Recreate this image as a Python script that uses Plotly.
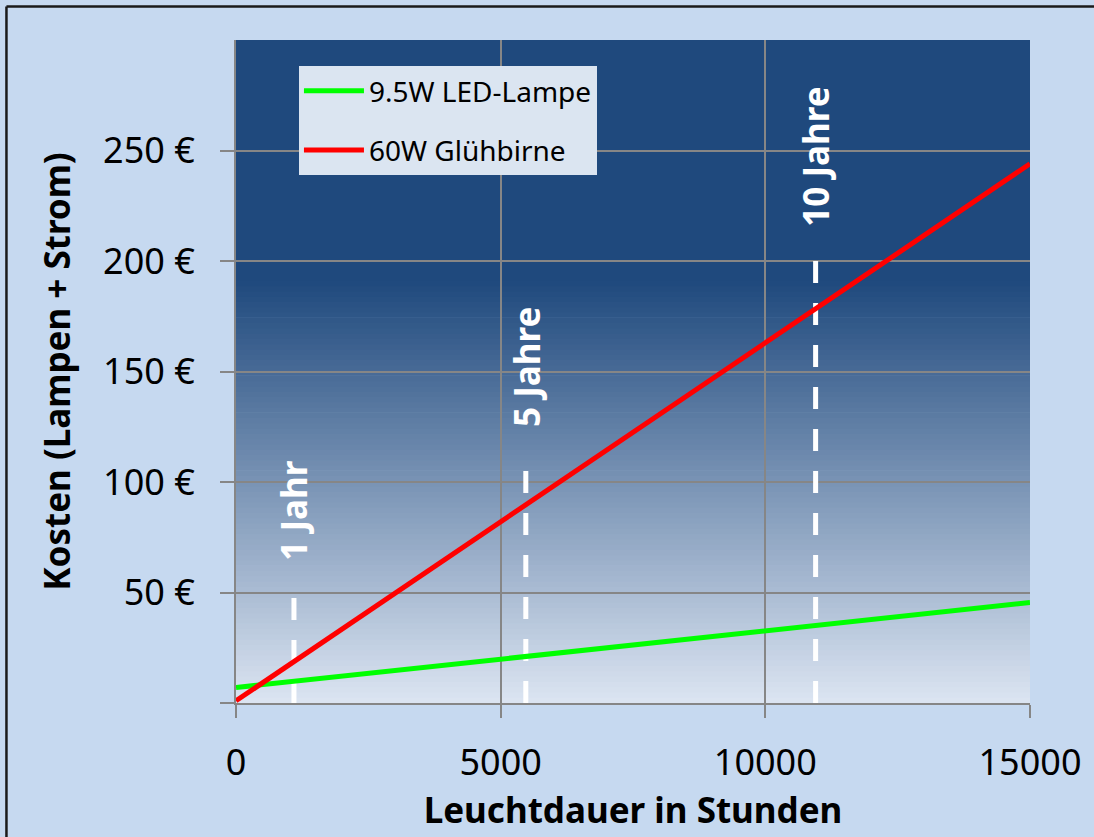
import plotly.graph_objects as go

# Leuchtdauer (h) und kumulierte Kosten (Lampen + Strom) in Euro
stunden = [0, 15000]
kosten_led = [7, 45.5]
kosten_gluehbirne = [1, 244]
serien_namen = ["9.5W LED-Lampe", "60W Glühbirne"]

# Markierungen für 1, 5 und 10 Jahre Nutzung
jahr_stunden = [1095, 5475, 10950]
jahr_linien_oben = [47.5, 105, 200]
jahr_label_y = [87, 152, 247]
jahr_labels = ["1 Jahr", "5 Jahre", "10 Jahre"]

x_ticks = [0, 5000, 10000, 15000]
y_ticks = [0, 50, 100, 150, 200, 250]
y_ticktext = ["", "50 €", "100 €", "150 €", "200 €", "250 €"]

FONT = "Noto Sans"
Y_MAX = 300

fig = go.Figure()

# gestrichelte Jahresmarken
for xs, top in zip(jahr_stunden, jahr_linien_oben):
    fig.add_trace(go.Scatter(
        x=[xs, xs], y=[top, 0], mode="lines",
        line=dict(color="white", width=5, dash="22px,20px"),
        showlegend=False, hoverinfo="skip",
    ))

fig.add_trace(go.Scatter(
    x=stunden, y=kosten_led, mode="lines", name=serien_namen[0],
    line=dict(color="#00FF00", width=5), legendgroup="led",
))
fig.add_trace(go.Scatter(
    x=stunden, y=kosten_gluehbirne, mode="lines", name=serien_namen[1],
    line=dict(color="#FF0000", width=5), legendgroup="gluehbirne",
))

for xs, ys, txt in zip(jahr_stunden, jahr_label_y, jahr_labels):
    fig.add_annotation(
        x=xs, y=ys, xref="x", yref="y", text=txt, textangle=-90,
        showarrow=False,
        font=dict(family=FONT, size=35, color="white", weight="bold"),
    )

# Hintergrundverlauf: dunkelblau oben, hell unten
dark = (31, 73, 125)
light = (220, 229, 242)
grad_top = 191.0
n_bands = 80
shapes = [dict(type="rect", xref="x domain", yref="y", x0=0, x1=1,
               y0=grad_top, y1=Y_MAX, fillcolor="rgb(31,73,125)",
               line=dict(width=0), layer="below")]
for i in range(n_bands):
    y0 = grad_top * i / n_bands
    y1 = grad_top * (i + 1) / n_bands
    f = 1 - (i + 0.5) / n_bands
    c = tuple(round(d + (l - d) * f) for d, l in zip(dark, light))
    shapes.append(dict(type="rect", xref="x domain", yref="y", x0=0, x1=1,
                       y0=y0, y1=y1 + 0.3, fillcolor="rgb(%d,%d,%d)" % c,
                       line=dict(width=0), layer="below"))

# Rahmen um das Diagramm
frame = dict(color="#1a1a1a", width=2.5)
shapes.append(dict(type="line", xref="paper", yref="paper",
                   x0=-0.2891, x1=-0.2891, y0=1.0505, y1=-0.35, line=frame))
shapes.append(dict(type="line", xref="paper", yref="paper",
                   x0=-0.2891, x1=1.2, y0=1.0505, y1=1.0505, line=frame))

axis_grey = "#868686"

fig.update_layout(
    width=1094, height=837,
    margin=dict(l=236, r=64, t=40, b=134),
    paper_bgcolor="#C6D9F0",
    plot_bgcolor="rgba(0,0,0,0)",
    shapes=shapes,
    font=dict(family=FONT, color="black"),
    showlegend=True,
    legend=dict(
        x=0.0793, y=0.9608, xanchor="left", yanchor="top",
        bgcolor="#DBE5F1", borderwidth=0,
        font=dict(family=FONT, size=28, color="black"),
        itemwidth=60, tracegroupgap=20, traceorder="grouped",
    ),
    xaxis=dict(
        range=[0, 15000], tickvals=x_ticks, tickformat="d",
        showline=True, linecolor=axis_grey, linewidth=2,
        showgrid=True, gridcolor=axis_grey, gridwidth=1.5,
        zeroline=False, ticks="outside", ticklen=13, tickwidth=2,
        tickcolor=axis_grey, tickfont=dict(family=FONT, size=36),
        ticklabelstandoff=14,
        title=dict(text="Leuchtdauer in Stunden", standoff=12,
                   font=dict(family=FONT, size=35, weight="bold")),
    ),
    yaxis=dict(
        range=[0, Y_MAX], tickvals=y_ticks, ticktext=y_ticktext,
        showline=True, linecolor=axis_grey, linewidth=2,
        showgrid=True, gridcolor=axis_grey, gridwidth=1.5,
        zeroline=False, ticks="outside", ticklen=14, tickwidth=2,
        tickcolor=axis_grey, tickfont=dict(family=FONT, size=36),
        ticklabelstandoff=18,
        title=dict(text="Kosten (Lampen + Strom)", standoff=22,
                   font=dict(family=FONT, size=35, weight="bold")),
    ),
)

fig.write_html("out.html")
